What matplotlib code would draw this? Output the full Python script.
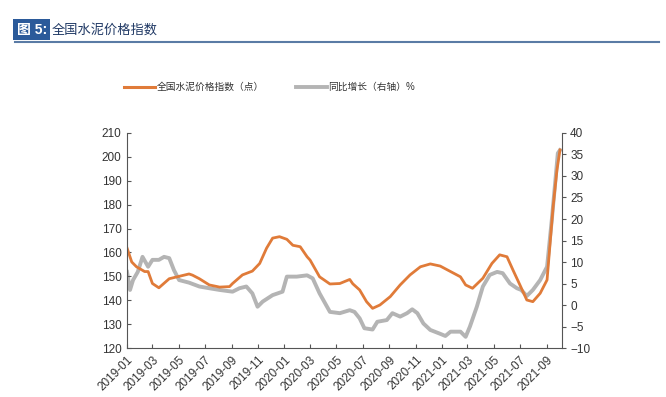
import pandas as pd
import matplotlib
matplotlib.use("Agg")
import matplotlib.pyplot as plt
import matplotlib.dates as mdates
from matplotlib.lines import Line2D

plt.rcParams['font.family'] = ['Liberation Sans', 'Noto Sans CJK SC', 'DejaVu Sans']

# 全国水泥价格指数 (left axis)
price_dates = ['2019-01-01', '2019-01-12', '2019-01-23', '2019-02-11', '2019-02-19', '2019-03-01',
               '2019-03-16', '2019-04-09', '2019-05-02', '2019-05-25', '2019-06-02', '2019-06-18',
               '2019-07-11', '2019-08-04', '2019-08-27', '2019-09-03', '2019-09-26', '2019-10-19',
               '2019-11-05', '2019-11-21', '2019-12-05', '2019-12-21', '2020-01-07', '2020-01-21',
               '2020-02-07', '2020-02-23', '2020-03-01', '2020-03-23', '2020-04-16', '2020-05-09',
               '2020-06-01', '2020-06-08', '2020-06-24', '2020-07-10', '2020-07-24', '2020-08-10',
               '2020-09-03', '2020-09-26', '2020-10-19', '2020-11-12', '2020-12-05', '2020-12-28',
               '2021-01-21', '2021-02-13', '2021-02-25', '2021-03-13', '2021-04-06', '2021-04-27',
               '2021-05-15', '2021-06-01', '2021-06-15', '2021-07-01', '2021-07-17', '2021-07-31',
               '2021-08-17', '2021-09-02', '2021-09-16', '2021-09-25', '2021-10-02']
price_index = [161.9, 156.0, 154.0, 152.0, 152.0, 147.0,
               145.2, 149.0, 150.0, 151.0, 150.5, 149.0,
               146.4, 145.5, 145.7, 147.0, 150.6, 152.2,
               155.4, 161.8, 166.0, 166.6, 165.5, 163.0,
               162.4, 158.2, 156.8, 149.8, 146.8, 147.0,
               148.7, 146.9, 144.3, 139.4, 136.6, 138.0,
               141.5, 146.4, 150.6, 154.0, 155.2, 154.3,
               152.0, 149.8, 146.4, 145.0, 149.2, 155.4,
               159.0, 158.2, 152.6, 146.4, 140.1, 139.4,
               142.9, 148.5, 179.0, 194.5, 202.9]

# 同比增长 % (right axis)
yoy_dates = ['2019-01-01', '2019-01-08', '2019-01-15', '2019-01-26', '2019-02-06', '2019-02-19',
             '2019-03-01', '2019-03-16', '2019-03-28', '2019-04-09', '2019-04-20', '2019-05-02',
             '2019-05-25', '2019-06-18', '2019-07-11', '2019-08-04', '2019-08-19', '2019-09-03',
             '2019-09-19', '2019-10-05', '2019-10-19', '2019-10-31', '2019-11-12', '2019-12-05',
             '2019-12-28', '2020-01-07', '2020-01-30', '2020-02-23', '2020-03-07', '2020-03-23',
             '2020-04-16', '2020-05-09', '2020-06-01', '2020-06-12', '2020-06-24', '2020-07-05',
             '2020-07-24', '2020-08-04', '2020-08-26', '2020-09-08', '2020-09-26', '2020-10-12',
             '2020-10-24', '2020-11-05', '2020-11-19', '2020-12-05', '2020-12-28', '2021-01-09',
             '2021-01-21', '2021-02-13', '2021-02-25', '2021-03-07', '2021-03-23', '2021-04-06',
             '2021-04-22', '2021-05-09', '2021-05-22', '2021-06-08', '2021-06-24', '2021-07-04',
             '2021-07-17', '2021-07-31', '2021-08-17', '2021-09-02', '2021-09-13', '2021-09-20',
             '2021-09-27', '2021-10-02']
yoy_growth = [7.7, 3.5, 5.8, 7.7, 11.2, 8.9,
              10.5, 10.5, 11.2, 10.9, 8.1, 5.8,
              5.2, 4.3, 3.9, 3.5, 3.3, 3.1,
              3.9, 4.3, 2.7, -0.4, 0.8, 2.3,
              3.1, 6.6, 6.6, 6.9, 6.2, 2.7,
              -1.6, -1.9, -1.2, -1.6, -3.1, -5.4,
              -5.7, -3.9, -3.5, -1.9, -2.7, -1.9,
              -1.0, -1.9, -4.3, -5.8, -6.7, -7.2,
              -6.2, -6.2, -7.4, -5.0, -0.4, 4.3,
              7.0, 7.7, 7.4, 5.0, 3.9, 3.5,
              2.1, 3.5, 5.8, 8.9, 19.8, 27.5,
              35.3, 36.0]

orange = '#E07B39'
grey = '#B4B4B4'
axis_col = '#555555'

fig = plt.figure(figsize=(6.66, 3.97), dpi=100)
ax = fig.add_axes([0.1907, 0.1234, 0.6527, 0.5416])
ax2 = ax.twinx()

ax2.plot(pd.to_datetime(yoy_dates), yoy_growth, color=grey, lw=2.8)
ax.plot(pd.to_datetime(price_dates), price_index, color=orange, lw=2.0)
ax.set_zorder(ax2.get_zorder() + 1)
ax.patch.set_visible(False)

ax.set_ylim(120, 210)
ax.set_yticks(range(120, 211, 10))
ax2.set_ylim(-10, 40)
ax2.set_yticks(range(-10, 41, 5))
ax.set_xlim(pd.Timestamp('2019-01-01'), pd.Timestamp('2021-10-06'))
ax.xaxis.set_major_locator(mdates.MonthLocator(bymonth=[1, 3, 5, 7, 9, 11]))
ax.xaxis.set_major_formatter(mdates.DateFormatter('%Y-%m'))
for lab in ax.get_xticklabels():
    lab.set_rotation(45)
    lab.set_ha('right')
    lab.set_rotation_mode('anchor')

for a in (ax, ax2):
    a.spines['top'].set_visible(False)
    for s in ('left', 'right', 'bottom'):
        a.spines[s].set_color(axis_col)
        a.spines[s].set_linewidth(0.8)
ax.spines['right'].set_visible(False)
ax2.spines['left'].set_visible(False)
ax2.spines['bottom'].set_visible(False)
ax.tick_params(axis='y', direction='in', length=3, color=axis_col, labelsize=8.5, labelcolor='#333333', pad=4)
ax.tick_params(axis='x', direction='in', length=3, color=axis_col, labelsize=8.5, labelcolor='#333333', pad=4)
ax2.tick_params(axis='y', direction='out', length=3, color=axis_col, labelsize=8.5, labelcolor='#333333', pad=3)

# legend
handles = [Line2D([], [], color=orange, lw=2.2), Line2D([], [], color=grey, lw=2.8)]
fig.legend(handles, ['全国水泥价格指数（点）', '同比增长（右轴）%'], loc='center',
           bbox_to_anchor=(0.405, 0.78), ncol=2, frameon=False, fontsize=7,
           handlelength=3.2, handletextpad=0.2, columnspacing=3.2, labelcolor='#333333')

# header
fig.text(0.025, 0.925, '图 5:', color='white', fontsize=10, fontweight='bold', va='center',
         bbox=dict(boxstyle='square,pad=0.25', facecolor='#2B5A9A', edgecolor='none'))
fig.text(0.077, 0.925, '全国水泥价格指数', color='#1F3864', fontsize=9.5, va='center')
fig.add_artist(Line2D([0.022, 0.99], [0.893, 0.893], color='#5A7BA5', lw=1.5, transform=fig.transFigure))

fig.savefig('out.png', dpi=100)
